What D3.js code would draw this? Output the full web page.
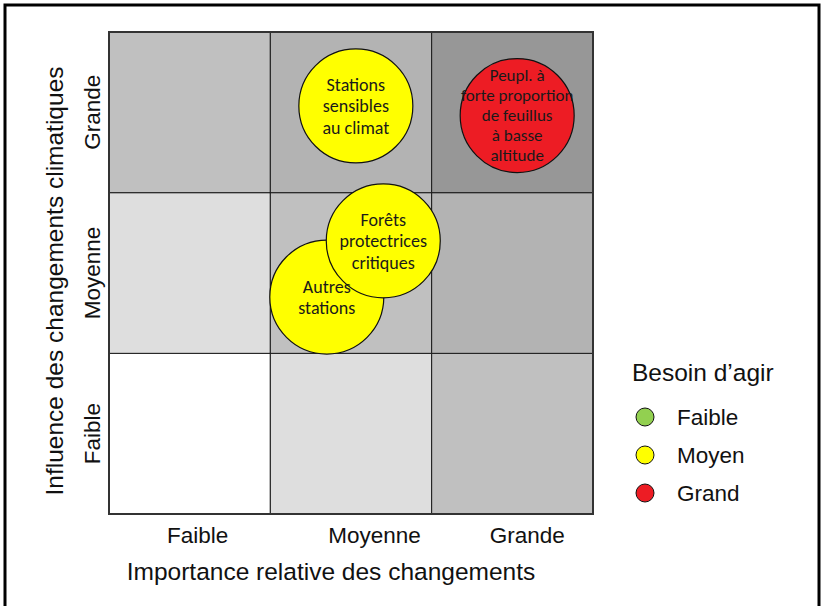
<!DOCTYPE html>
<html>
<head>
<meta charset="utf-8">
<script src="https://cdn.jsdelivr.net/npm/d3@7"></script>
<style>
  body { margin: 0; background: #fff; }
  svg { display: block; }
  .axisText { font-family: "Liberation Sans", Arial, sans-serif; font-size: 22.5px; fill: #111; }
  .titleText { font-size: 24.5px; }
  .bubbleText { font-family: Carlito, Calibri, "Open Sans", sans-serif; font-size: 18px; fill: #1a1a1a; }
</style>
</head>
<body>
<div id="chart"></div>
<script>
// Categories on both axes
var xCategories = ["Faible", "Moyenne", "Grande"];
var yCategories = ["Faible", "Moyenne", "Grande"];

// Shading of the matrix cells, indexed by (column + row)
var cellShades = ["#ffffff", "#dedede", "#c0c0c0", "#b3b3b3", "#979797"];

// Bubbles (position in matrix units 0-3)
var bubbleLabels = [
    ["Autres", "stations"],
    ["Forêts", "protectrices", "critiques"],
    ["Stations", "sensibles", "au climat"],
    ["Peupl. à", "forte proportion", "de feuillus", "à basse", "altitude"]
];
var bubbleX = [1.35, 1.70, 1.53, 2.53];
var bubbleY = [1.35, 1.70, 2.54, 2.48];
var bubbleNeed = ["Moyen", "Moyen", "Moyen", "Grand"];

// Legend
var legendTitle = "Besoin d’agir";
var needLevels = ["Faible", "Moyen", "Grand"];
var needColors = ["#92d050", "#ffff00", "#ed1c24"];

var xTitle = "Importance relative des changements";
var yTitle = "Influence des changements climatiques";

// SVG canvas
var svgWidth = 822;
var svgHeight = 606;
var plot = { left: 109, right: 593, top: 32, bottom: 514 };

var svg = d3.select("#chart").append("svg")
    .attr("width", svgWidth)
    .attr("height", svgHeight);

// outer frame
svg.append("rect")
    .attr("x", 5).attr("y", 5)
    .attr("width", 814).attr("height", 620)
    .attr("fill", "none")
    .attr("stroke", "#000")
    .attr("stroke-width", 3);

var x = d3.scaleLinear().domain([0, 3]).range([plot.left, plot.right]);
var y = d3.scaleLinear().domain([0, 3]).range([plot.bottom, plot.top]);
var color = d3.scaleOrdinal().domain(needLevels).range(needColors);

// matrix cells
var cells = [];
xCategories.forEach(function (cx, i) {
    yCategories.forEach(function (cy, j) {
        cells.push({ i: i, j: j });
    });
});

svg.append("g").selectAll("rect")
    .data(cells)
    .enter()
    .append("rect")
    .attr("x", d => x(d.i))
    .attr("y", d => y(d.j + 1))
    .attr("width", d => x(d.i + 1) - x(d.i))
    .attr("height", d => y(d.j) - y(d.j + 1))
    .attr("fill", d => cellShades[d.i + d.j])
    .attr("stroke", "#1a1a1a")
    .attr("stroke-width", 1);

// darker outer border of the matrix
svg.append("rect")
    .attr("x", x(0)).attr("y", y(3))
    .attr("width", x(3) - x(0)).attr("height", y(0) - y(3))
    .attr("fill", "none")
    .attr("stroke", "#333")
    .attr("stroke-width", 2);

// bubbles
var bubbles = bubbleLabels.map(function (lines, k) {
    return { lines: lines, x: bubbleX[k], y: bubbleY[k], need: bubbleNeed[k] };
});

svg.append("g").selectAll("circle")
    .data(bubbles)
    .enter()
    .append("circle")
    .attr("cx", d => x(d.x))
    .attr("cy", d => y(d.y))
    .attr("r", 57)
    .attr("fill", d => color(d.need))
    .attr("stroke", "#111")
    .attr("stroke-width", 1.2);

// bubble labels
var lineHeight = 21.5;
svg.append("g").selectAll("text")
    .data(bubbles)
    .enter()
    .append("text")
    .attr("class", "bubbleText")
    .attr("text-anchor", "middle")
    .style("font-size", d => d.lines.length > 3 ? "17px" : null)
    .each(function (d) {
        var lh = d.lines.length > 3 ? 20 : lineHeight;
        var t = d3.select(this);
        d.lines.forEach(function (line, n) {
            t.append("tspan")
                .attr("x", x(d.x))
                .attr("y", y(d.y) + (n - (d.lines.length - 1) / 2) * lh)
                .attr("dy", "0.35em")
                .text(line);
        });
    });

// x tick labels (left-aligned inside each column, like the original)
svg.append("g").selectAll("text")
    .data(xCategories)
    .enter()
    .append("text")
    .attr("class", "axisText")
    .attr("x", (d, i) => x(i) + 58)
    .attr("y", 543)
    .text(d => d);

// y tick labels
svg.append("g").selectAll("text")
    .data(yCategories)
    .enter()
    .append("text")
    .attr("class", "axisText")
    .attr("text-anchor", "middle")
    .attr("transform", (d, i) => `translate(100, ${y(i + 0.5)}) rotate(-90)`)
    .text(d => d);

// axis titles
svg.append("text")
    .attr("class", "axisText titleText")
    .attr("text-anchor", "middle")
    .attr("x", 331)
    .attr("y", 580)
    .text(xTitle);

svg.append("text")
    .attr("class", "axisText titleText")
    .attr("text-anchor", "middle")
    .attr("transform", `translate(63, ${(plot.top + plot.bottom) / 2 + 8}) rotate(-90)`)
    .text(yTitle);

// legend
var legend = svg.append("g");
legend.append("text")
    .attr("class", "axisText titleText")
    .attr("x", 632)
    .attr("y", 381)
    .text(legendTitle);

var legendY = d3.scalePoint().domain(needLevels).range([417, 493]);

legend.selectAll("circle")
    .data(needLevels)
    .enter()
    .append("circle")
    .attr("cx", 645)
    .attr("cy", d => legendY(d))
    .attr("r", 9)
    .attr("fill", d => color(d))
    .attr("stroke", "#111")
    .attr("stroke-width", 1);

legend.selectAll("text.item")
    .data(needLevels)
    .enter()
    .append("text")
    .attr("class", "axisText item")
    .attr("x", 677)
    .attr("y", d => legendY(d) + 8)
    .text(d => d);
</script>
</body>
</html>
